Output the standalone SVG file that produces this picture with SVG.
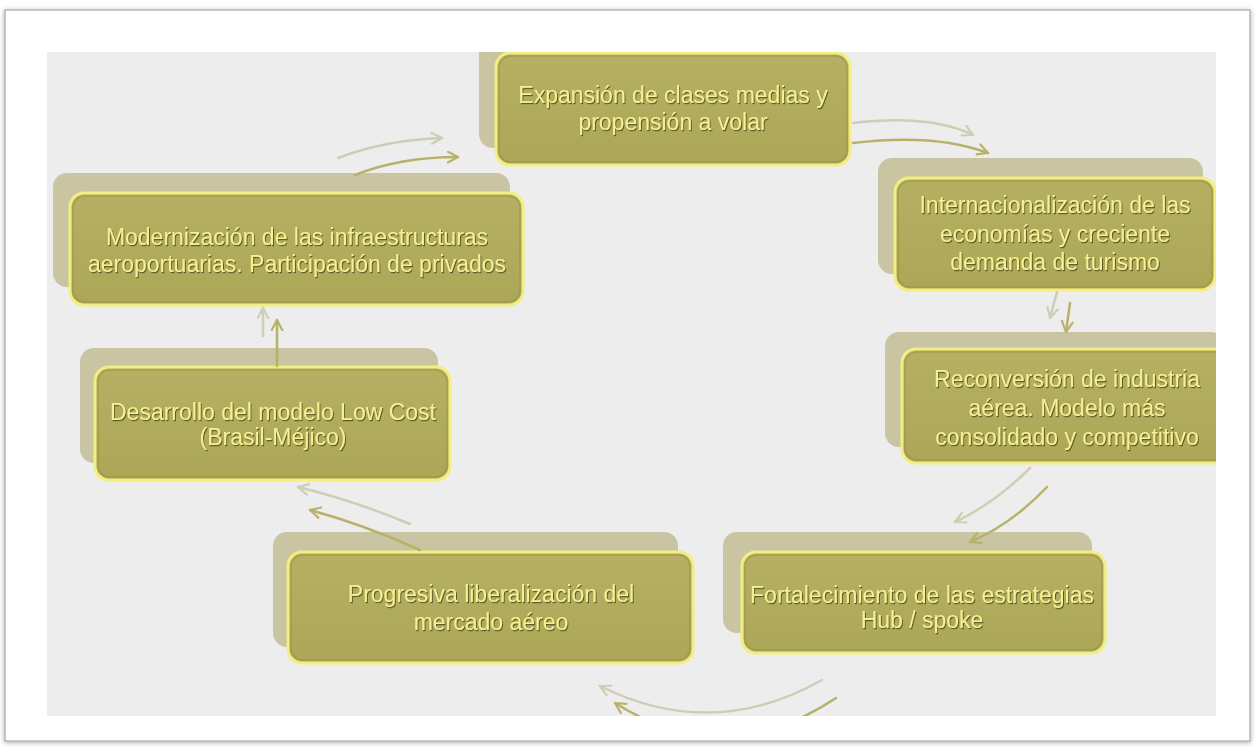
<svg xmlns="http://www.w3.org/2000/svg" width="1256" height="747" viewBox="0 0 1256 747">
  <style>
    .back { fill: #c9c5a3; }
    .front { fill: url(#fg); stroke: #f3ee80; stroke-width: 3; }
    .inner { fill: none; stroke: #958f4a; stroke-width: 1.5; stroke-opacity: 0.55; }
    .lbl { font-family: "Liberation Sans", Arial, sans-serif; font-size: 23px; fill: #f5f192; text-anchor: middle; filter: url(#ts); }
    .light { fill: none; stroke: #d0cdb6; stroke-width: 2.5; stroke-linecap: round; marker-end: url(#mL); }
    .dark { fill: none; stroke: #b7b26a; stroke-width: 2.5; stroke-linecap: round; marker-end: url(#mD); }
  </style>
  <defs>
    <linearGradient id="fg" x1="0" y1="0" x2="0" y2="1">
      <stop offset="0" stop-color="#b6b063"/>
      <stop offset="1" stop-color="#aca657"/>
    </linearGradient>
    <filter id="ts" x="-5%" y="-20%" width="110%" height="140%">
      <feDropShadow dx="1" dy="1.2" stdDeviation="0.7" flood-color="#4f4a1e" flood-opacity="0.85"/>
    </filter>
    <filter id="ps" x="-2%" y="-2%" width="104%" height="104%">
      <feDropShadow dx="0" dy="1" stdDeviation="2.5" flood-color="#777" flood-opacity="0.6"/>
    </filter>
    <marker id="mL" viewBox="0 0 12 12" refX="10.5" refY="6" markerWidth="13" markerHeight="13" markerUnits="userSpaceOnUse" orient="auto">
      <path d="M1,1 L10.5,6 L1,11" fill="none" stroke="#d0cdb6" stroke-width="2" stroke-linecap="round" stroke-linejoin="round"/>
    </marker>
    <marker id="mD" viewBox="0 0 12 12" refX="10.5" refY="6" markerWidth="13" markerHeight="13" markerUnits="userSpaceOnUse" orient="auto">
      <path d="M1,1 L10.5,6 L1,11" fill="none" stroke="#b7b26a" stroke-width="2" stroke-linecap="round" stroke-linejoin="round"/>
    </marker>
    <clipPath id="content">
      <rect x="47" y="52" width="1169" height="664"/>
    </clipPath>
  </defs>

  <rect x="0" y="0" width="1256" height="747" fill="#ffffff"/>
  <rect id="page" x="5" y="10" width="1245" height="731" fill="#ffffff" stroke="#b8b8b8" stroke-width="1.5" filter="url(#ps)"/>
  <rect id="canvas" x="47" y="52" width="1169" height="664" fill="#ededed"/>

  <g clip-path="url(#content)">
    <g id="n1">
      <rect class="back" x="479" y="34" width="354" height="114" rx="14"/>
      <rect class="front" x="496" y="53" width="354" height="112" rx="14"/>
      <rect class="inner" x="499" y="56" width="348" height="106" rx="12"/>
      <text class="lbl" x="673" y="103">Expansión de clases medias y</text>
      <text class="lbl" x="673" y="130">propensión a volar</text>
    </g>
    <g id="n2">
      <rect class="back" x="878" y="158" width="325" height="116" rx="14"/>
      <rect class="front" x="895" y="178" width="320" height="112" rx="14"/>
      <rect class="inner" x="898" y="181" width="314" height="106" rx="12"/>
      <text class="lbl" x="1055" y="213">Internacionalización de las</text>
      <text class="lbl" x="1055" y="242">economías y creciente</text>
      <text class="lbl" x="1055" y="270">demanda de turismo</text>
    </g>
    <g id="n3">
      <rect class="back" x="885" y="332" width="340" height="115" rx="14"/>
      <rect class="front" x="902" y="349" width="335" height="114" rx="14"/>
      <rect class="inner" x="905" y="352" width="329" height="108" rx="12"/>
      <text class="lbl" x="1067" y="387">Reconversión de industria</text>
      <text class="lbl" x="1067" y="416">aérea. Modelo más</text>
      <text class="lbl" x="1067" y="445">consolidado y competitivo</text>
    </g>
    <g id="n4">
      <rect class="back" x="723" y="532" width="369" height="101" rx="14"/>
      <rect class="front" x="742" y="552" width="363" height="101" rx="14"/>
      <rect class="inner" x="745" y="555" width="357" height="95" rx="12"/>
      <text class="lbl" x="922" y="603">Fortalecimiento de las estrategias</text>
      <text class="lbl" x="922" y="628">Hub / spoke</text>
    </g>
    <g id="n5">
      <rect class="back" x="273" y="532" width="405" height="115" rx="14"/>
      <rect class="front" x="288" y="552" width="405" height="111" rx="14"/>
      <rect class="inner" x="291" y="555" width="399" height="105" rx="12"/>
      <text class="lbl" x="491" y="602">Progresiva liberalización del</text>
      <text class="lbl" x="491" y="630">mercado aéreo</text>
    </g>
    <g id="n6">
      <rect class="back" x="80" y="348" width="358" height="115" rx="14"/>
      <rect class="front" x="95" y="367" width="355" height="113" rx="14"/>
      <rect class="inner" x="98" y="370" width="349" height="107" rx="12"/>
      <text class="lbl" x="273" y="420">Desarrollo del modelo Low Cost</text>
      <text class="lbl" x="273" y="445">(Brasil-Méjico)</text>
    </g>
    <g id="n7">
      <rect class="back" x="53" y="173" width="457" height="114" rx="14"/>
      <rect class="front" x="70" y="193" width="453" height="112" rx="14"/>
      <rect class="inner" x="73" y="196" width="447" height="106" rx="12"/>
      <text class="lbl" x="297" y="245">Modernización de las infraestructuras</text>
      <text class="lbl" x="297" y="272">aeroportuarias. Participación de privados</text>
    </g>

    <g id="connectors">
      <path class="light" d="M338,158 Q385,140 442,138"/>
      <path class="dark" d="M355,175 Q400,157 458,157"/>
      <path class="light" d="M853,123 Q930,114 973,135"/>
      <path class="dark" d="M853,143 Q935,133 988,153"/>
      <path class="light" d="M1057,292 L1050,318"/>
      <path class="dark" d="M1070,303 L1066,332"/>
      <path class="light" d="M1030,468 Q995,503 955,522"/>
      <path class="dark" d="M1047,487 Q1012,524 970,542"/>
      <path class="light" d="M822,680 Q712,742 600,686"/>
      <path class="dark" d="M836,698 Q725,772 615,703"/>
      <path class="light" d="M410,524 Q352,500 298,487"/>
      <path class="dark" d="M420,550 Q362,524 310,510"/>
      <path class="light" d="M263,336 L263,308"/>
      <path class="dark" d="M277,366 L277,320"/>
    </g>
  </g>
</svg>
